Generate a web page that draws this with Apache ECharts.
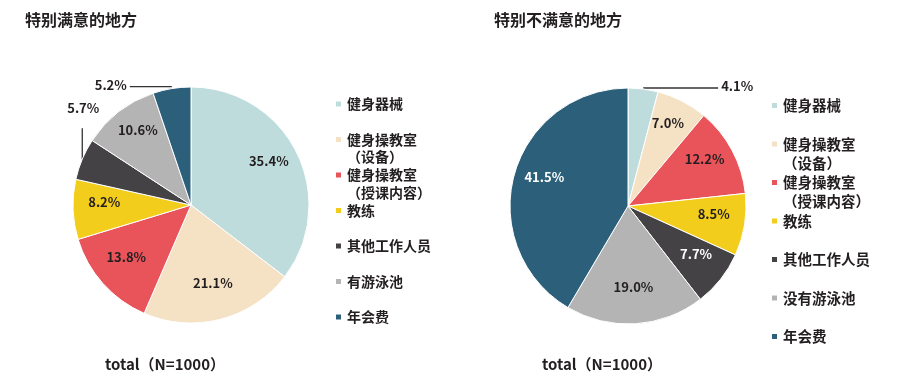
<!DOCTYPE html>
<html><head><meta charset="utf-8">
<script src="https://cdn.jsdelivr.net/npm/echarts@6/dist/echarts.min.js"></script>
<style>html,body{margin:0;padding:0;background:#fff}#c{width:900px;height:390px}</style>
</head><body><div id="c"></div>
<script>
// ---- data ----
const leftTitle = '特别满意的地方';
const rightTitle = '特别不满意的地方';
const footnote = 'total（N=1000）';
const leftCategories = ['健身器械', '健身操教室\n（设备）', '健身操教室\n（授课内容）', '教练', '其他工作人员', '有游泳池', '年会费'];
const rightCategories = ['健身器械', '健身操教室\n（设备）', '健身操教室\n（授课内容）', '教练', '其他工作人员', '没有游泳池', '年会费'];
const leftValues = [35.4, 21.1, 13.8, 8.2, 5.7, 10.6, 5.2];
const rightValues = [4.1, 7.0, 12.2, 8.5, 7.7, 19.0, 41.5];
const sliceColors = ['#bfdcdc', '#f5e1c4', '#e9535a', '#f2cd1c', '#444244', '#b4b4b4', '#2b5f7a'];

// ---- styling / layout ----
const FONT = '"Noto Sans CJK SC", "Noto Sans", sans-serif';
const TXT = '#231f20';
const R = 118;
const leftCenter = [191, 205];
const rightCenter = [628, 206];
const isDark = c => {
  const n = parseInt(c.slice(1), 16);
  const r = n >> 16, g = (n >> 8) & 255, b = n & 255;
  return (0.299 * r + 0.587 * g + 0.114 * b) < 110;
};

// how outside labels are drawn (per pie): index -> style of leader
const leftOutside = {4: 'up', 6: 'left'};
const rightOutside = {0: 'right'};

function buildData(cats, vals, outside) {
  return cats.map((n, i) => {
    const item = {name: n, value: vals[i], itemStyle: {color: sliceColors[i]},
      label: {color: isDark(sliceColors[i]) ? '#fff' : TXT}};
    if (outside[i]) {
      item.label = {position: 'outside', color: TXT};
      item.labelLine = {show: true, length: 1, length2: 1, lineStyle: {color: '#333', width: 1.3}};
    }
    return item;
  });
}

function makeLayout(center, outside) {
  return function (p) {
    const kind = outside[p.dataIndex];
    if (kind) {
      const p0 = p.labelLinePoints[0];
      if (kind === 'up') {
        return {x: p0[0] + 1, y: p0[1] - 51, align: 'center', verticalAlign: 'middle',
          labelLinePoints: [p0, [p0[0], p0[1] - 31]]};
      } else if (kind === 'left') {
        return {x: p0[0] - 45, y: p0[1] - 4, align: 'right', verticalAlign: 'middle',
          labelLinePoints: [[p0[0], p0[1] - 2], [p0[0] - 42, p0[1] - 2]]};
      } else {
        return {x: p0[0] + 78, y: p0[1] - 3, align: 'left', verticalAlign: 'middle',
          labelLinePoints: [[p0[0], p0[1] - 1], [p0[0] + 75, p0[1] - 1]]};
      }
    }
    const lr = p.labelRect;
    const cx = lr.x + lr.width / 2, cy = lr.y + lr.height / 2;
    const k = 1.4;
    return {x: center[0] + (cx - center[0]) * k, y: center[1] + (cy - center[1]) * k - 6,
      align: 'center', verticalAlign: 'middle'};
  };
}

function pieSeries(name, center, cats, vals, outside) {
  return {
    type: 'pie', name: name, center: center, radius: [0, R],
    startAngle: 90, clockwise: true, avoidLabelOverlap: false,
    animation: false, silent: true,
    itemStyle: {borderColor: '#fff', borderWidth: 1},
    label: {show: true, position: 'inside', formatter: p => p.value.toFixed(1) + '%',
      fontFamily: FONT, fontSize: 13, fontWeight: 'bold', color: TXT},
    labelLine: {show: false},
    labelLayout: makeLayout(center, outside),
    data: buildData(cats, vals, outside)
  };
}

// one legend component per entry so that first lines keep an even step;
// two-line entries get an empty leading line so the marker sits beside the first line
function legends(x, firstY, names, fontSize, lh, step) {
  return names.map((n, i) => {
    const lines = n.split('\n').length;
    const iconY = firstY + i * step;
    const shown = lines > 1 ? (2 * lines - 1) : 1;
    return {
      orient: 'vertical', left: x, top: iconY - shown * lh / 2, padding: 0,
      data: [n], icon: 'rect', itemWidth: 7, itemHeight: 7, selectedMode: false,
      formatter: nm => (lines > 1 ? '\n'.repeat(lines - 1) : '') + nm,
      textStyle: {fontFamily: FONT, fontSize: fontSize, fontWeight: 'bold', color: TXT, lineHeight: lh}
    };
  });
}

const chart = echarts.init(document.getElementById('c'), null, {renderer: 'canvas'});
chart.setOption({
  backgroundColor: '#fff',
  animation: false,
  title: [
    {text: leftTitle, left: 25, top: 12, padding: 0, textStyle: {fontFamily: FONT, fontSize: 16, fontWeight: 'bold', color: TXT}},
    {text: rightTitle, left: 494, top: 12, padding: 0, textStyle: {fontFamily: FONT, fontSize: 16, fontWeight: 'bold', color: TXT}},
    {text: footnote, left: 105, top: 357, padding: 0, textStyle: {fontFamily: FONT, fontSize: 15, fontWeight: 'bold', color: TXT}},
    {text: footnote, left: 542, top: 357, padding: 0, textStyle: {fontFamily: FONT, fontSize: 15, fontWeight: 'bold', color: TXT}}
  ],
  legend: [].concat(
    legends(334, 104, leftCategories, 14, 17.5, 35.5),
    legends(770, 105.5, rightCategories, 14.5, 19, 38.5)
  ),
  series: [
    pieSeries('left', leftCenter, leftCategories, leftValues, leftOutside),
    pieSeries('right', rightCenter, rightCategories, rightValues, rightOutside)
  ]
});
</script></body></html>
